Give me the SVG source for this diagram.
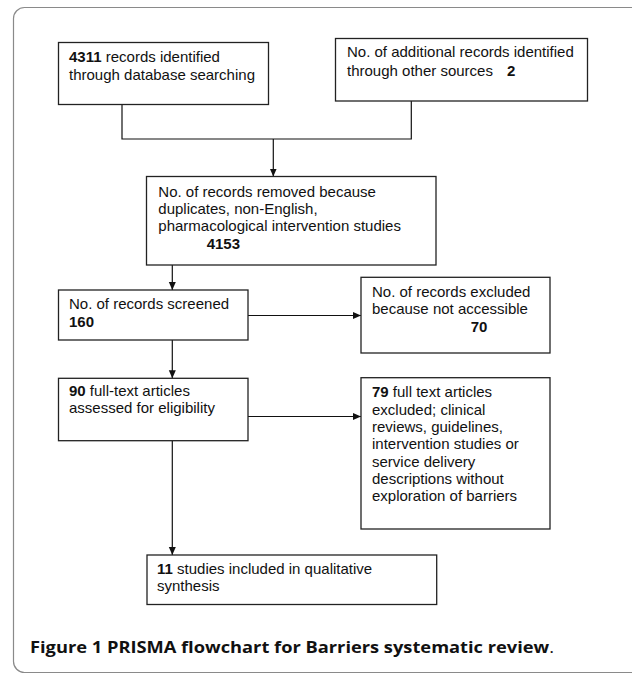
<svg xmlns="http://www.w3.org/2000/svg" width="632" height="674" viewBox="0 0 632 674">
<defs>
<style>
.box{fill:#fff;stroke:#222;stroke-width:1.3}
.t{font-family:"Liberation Sans",Arial,sans-serif;font-size:15px;fill:#111}
.b{font-weight:bold}
.con{fill:none;stroke:#111;stroke-width:1.2}
.cap{font-family:"Open Sans","Liberation Sans",sans-serif;font-size:16px;font-weight:bold;fill:#111}
</style>
<marker id="ah" markerUnits="userSpaceOnUse" markerWidth="8" markerHeight="8" viewBox="0 0 8 8" refX="8" refY="4" orient="auto">
<path d="M0,0.5 L8,4 L0,7.5 z" fill="#111"/>
</marker>
</defs>
<rect x="13.5" y="7.5" width="630" height="665" rx="11" ry="11" fill="#fff" stroke="#8a8a8a" stroke-width="1.2"/>
<g id="connectors">
<path class="con" d="M122,104 V139 H411.3 V101"/>
<path class="con" d="M273.3,139 V176.5" marker-end="url(#ah)"/>
<path class="con" d="M172.3,265 V290" marker-end="url(#ah)"/>
<path class="con" d="M248,315.5 H361" marker-end="url(#ah)"/>
<path class="con" d="M172.3,340 V378.3" marker-end="url(#ah)"/>
<path class="con" d="M248,416.5 H361" marker-end="url(#ah)"/>
<path class="con" d="M172.3,440.7 V555" marker-end="url(#ah)"/>
</g>
<g id="n1">
<rect class="box" x="58.5" y="42.5" width="210" height="62"/>
<text class="t" x="69" y="61.7"><tspan class="b">4311</tspan> records identified</text>
<text class="t" x="69" y="80">through database searching</text>
</g>
<g id="n2">
<rect class="box" x="335.5" y="38.5" width="252" height="62.5"/>
<text class="t" x="347" y="57.3">No. of additional records identified</text>
<text class="t" x="347" y="75.7">through other sources<tspan class="b" x="507">2</tspan></text>
</g>
<g id="n3">
<rect class="box" x="146.5" y="176.5" width="289.5" height="88.5"/>
<text class="t" x="158.3" y="196.7">No. of records removed because</text>
<text class="t" x="158.3" y="214">duplicates, non-English,</text>
<text class="t" x="158.3" y="231.3">pharmacological intervention studies</text>
<text class="t b" x="206.7" y="248.6">4153</text>
</g>
<g id="n4">
<rect class="box" x="58.5" y="290" width="189.5" height="50"/>
<text class="t" x="69" y="309.3">No. of records screened</text>
<text class="t b" x="69" y="326.6">160</text>
</g>
<g id="n5">
<rect class="box" x="361" y="277.3" width="189" height="75.7"/>
<text class="t" x="372" y="296.7">No. of records excluded</text>
<text class="t" x="372" y="314.3">because not accessible</text>
<text class="t b" x="470.7" y="331.7">70</text>
</g>
<g id="n6">
<rect class="box" x="58.5" y="378.3" width="189.5" height="62.4"/>
<text class="t" x="69" y="396"><tspan class="b">90</tspan> full-text articles</text>
<text class="t" x="69" y="413.3">assessed for eligibility</text>
</g>
<g id="n7">
<rect class="box" x="361" y="377.7" width="189" height="151.3"/>
<text class="t" x="372" y="397.3"><tspan class="b">79</tspan> full text articles</text>
<text class="t" x="372" y="415">excluded; clinical</text>
<text class="t" x="372" y="432.3">reviews, guidelines,</text>
<text class="t" x="372" y="449.3">intervention studies or</text>
<text class="t" x="372" y="466.7">service delivery</text>
<text class="t" x="372" y="484.3">descriptions without</text>
<text class="t" x="372" y="501">exploration of barriers</text>
</g>
<g id="n8">
<rect class="box" x="147" y="555" width="289.7" height="49.5"/>
<text class="t" x="157" y="574"><tspan class="b">11</tspan> studies included in qualitative</text>
<text class="t" x="157" y="591">synthesis</text>
</g>
<text class="cap" x="30" y="653.3" textLength="524" lengthAdjust="spacingAndGlyphs">Figure 1 PRISMA flowchart for Barriers systematic review<tspan font-weight="normal">.</tspan></text>
</svg>
